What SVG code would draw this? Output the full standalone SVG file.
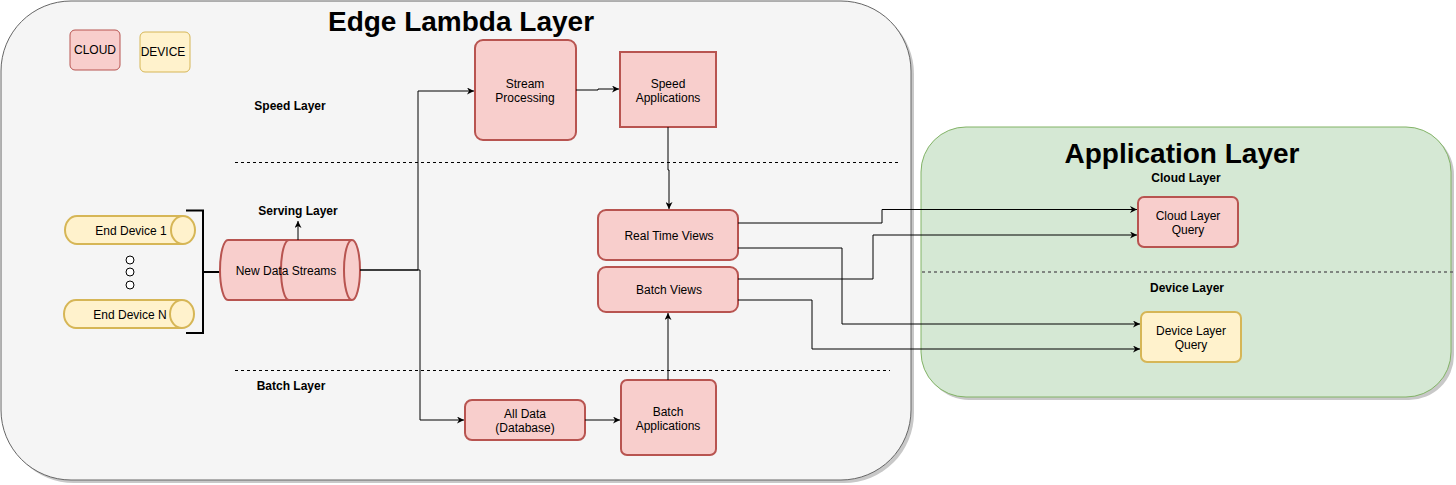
<svg xmlns="http://www.w3.org/2000/svg" width="1456" height="485" viewBox="0 0 1456 485">
<style>
.t{font-family:"Liberation Sans",Arial,sans-serif;font-size:12px;fill:#000;text-anchor:middle}
.b{font-weight:bold}
.title{font-family:"Liberation Sans",Arial,sans-serif;font-size:28px;font-weight:bold;fill:#000;text-anchor:middle}
.red{fill:#f8cecc;stroke:#b85450;stroke-width:2}
.yel{fill:#fff2cc;stroke:#d6b656;stroke-width:2}
.c{fill:none;stroke:#000;stroke-width:1}
.dash{fill:none;stroke:#000;stroke-width:1;stroke-dasharray:3 3}
</style>
<defs>
<marker id="a" viewBox="0 0 10 10" refX="10" refY="5" markerWidth="7" markerHeight="7" orient="auto" markerUnits="userSpaceOnUse">
<path d="M0,0 L10,5 L0,10 L3,5 z" fill="#000"/>
</marker>
</defs>

<g id="edge-lambda-layer">
<rect x="4" y="4" width="910" height="479" rx="70" fill="#c8c8c8"/>
<rect x="1" y="1" width="910" height="479" rx="70" fill="#f5f5f5" stroke="#666" stroke-width="1"/>
<text class="title" x="461" y="31">Edge Lambda Layer</text>
</g>

<g id="application-layer">
<rect x="924" y="130" width="530" height="270" rx="45" fill="#c8c8c8"/>
<rect x="921" y="127" width="530" height="270" rx="45" fill="#d5e8d4" stroke="#82b366" stroke-width="1"/>
<text class="title" x="1182" y="163">Application Layer</text>
</g>

<g id="legend-cloud">
<rect class="red" x="70" y="30" width="50" height="40" rx="5" style="stroke-width:1"/>
<text class="t" x="95" y="54">CLOUD</text>
</g>
<g id="legend-device">
<rect class="yel" x="140" y="32" width="50" height="40" rx="5" style="stroke-width:1"/>
<text class="t" x="163" y="56">DEVICE</text>
</g>

<g id="layer-labels">
<text class="t b" x="290" y="110">Speed Layer</text>
<text class="t b" x="298" y="215">Serving Layer</text>
<text class="t b" x="291" y="390">Batch Layer</text>
<text class="t b" x="1186" y="182">Cloud Layer</text>
<text class="t b" x="1187" y="292">Device Layer</text>
<line class="dash" x1="235" y1="162.5" x2="898" y2="162.5"/>
<line class="dash" x1="235" y1="370.5" x2="890" y2="370.5"/>
<line x1="922" y1="272" x2="1456" y2="272" stroke="#666" stroke-width="1.5" stroke-dasharray="3 3"/>
</g>

<g id="end-device-1">
<path class="yel" d="M77,216 L183,216 A12,14 0 0 1 183,244 L77,244 A12,14 0 0 1 77,216 Z"/>
<path class="yel" d="M183,216 A12,14 0 0 0 183,244" fill="none"/>
<text class="t" x="131" y="235">End Device 1</text>
</g>
<g id="dots">
<circle cx="130" cy="260" r="4" fill="#fff" stroke="#000" stroke-width="1"/>
<circle cx="130" cy="272" r="4" fill="#fff" stroke="#000" stroke-width="1"/>
<circle cx="130" cy="285" r="4" fill="#fff" stroke="#000" stroke-width="1"/>
</g>
<g id="end-device-n">
<path class="yel" d="M76,300 L182,300 A12,14 0 0 1 182,328 L76,328 A12,14 0 0 1 76,300 Z"/>
<path class="yel" d="M182,300 A12,14 0 0 0 182,328" fill="none"/>
<text class="t" x="130" y="319">End Device N</text>
</g>
<g id="bracket">
<path d="M186,210.5 L203,210.5 L203,333 L186,333 M203,272 L220,272" fill="none" stroke="#000" stroke-width="2"/>
</g>

<g id="new-data-streams">
<path class="red" d="M228,240 L295,240 L295,300 L228,300 A8,30 0 0 1 228,240 Z"/>
<path class="red" d="M289,240 L352,240 A8,30 0 0 1 352,300 L289,300 A8,30 0 0 1 289,240 Z"/>
<path class="red" d="M352,240 A8,30 0 0 0 352,300" fill="none"/>
<text class="t" x="286" y="275">New Data Streams</text>
</g>

<g id="stream-processing">
<rect class="red" x="475" y="40" width="101" height="100" rx="8"/>
<text class="t" x="525" y="88">Stream</text>
<text class="t" x="525" y="102">Processing</text>
</g>
<g id="speed-applications">
<rect class="red" x="620" y="52" width="96" height="75"/>
<text class="t" x="668" y="88">Speed</text>
<text class="t" x="668" y="102">Applications</text>
</g>
<g id="real-time-views">
<rect class="red" x="598" y="210" width="140" height="50" rx="8"/>
<text class="t" x="669" y="240">Real Time Views</text>
</g>
<g id="batch-views">
<rect class="red" x="598" y="267" width="140" height="45" rx="8"/>
<text class="t" x="669" y="294">Batch Views</text>
</g>
<g id="all-data">
<rect class="red" x="465" y="400" width="120" height="40" rx="7"/>
<text class="t" x="525" y="418">All Data</text>
<text class="t" x="525" y="432">(Database)</text>
</g>
<g id="batch-applications">
<rect class="red" x="621" y="380" width="95" height="75" rx="6"/>
<text class="t" x="668" y="416">Batch</text>
<text class="t" x="668" y="430">Applications</text>
</g>
<g id="cloud-layer-query">
<rect class="red" x="1138" y="197" width="100" height="50" rx="6"/>
<text class="t" x="1188" y="220">Cloud Layer</text>
<text class="t" x="1188" y="234">Query</text>
</g>
<g id="device-layer-query">
<rect class="yel" x="1141" y="312" width="100" height="50" rx="6"/>
<text class="t" x="1191" y="335">Device Layer</text>
<text class="t" x="1191" y="349">Query</text>
</g>

<g id="connectors">
<path class="c" d="M298,240 L298,221" marker-end="url(#a)"/>
<path class="c" d="M360,270 L418,270 L418,91 L474,91" marker-end="url(#a)"/>
<path class="c" d="M360,270 L420,270 L420,420 L464,420" marker-end="url(#a)"/>
<path class="c" d="M576,90 L598,90 L598,89 L619,89" marker-end="url(#a)"/>
<path class="c" d="M668,127 L668,170 L669,170 L669,209" marker-end="url(#a)"/>
<path class="c" d="M585,420 L620,420" marker-end="url(#a)"/>
<path class="c" d="M668,380 L668,313" marker-end="url(#a)"/>
<path class="c" d="M738,223 L882,223 L882,209.5 L1137,209.5" marker-end="url(#a)"/>
<path class="c" d="M738,279 L873,279 L873,235 L1137,235" marker-end="url(#a)"/>
<path class="c" d="M738,248 L842,248 L842,324 L1140,324" marker-end="url(#a)"/>
<path class="c" d="M738,300 L812,300 L812,349 L1140,349" marker-end="url(#a)"/>
</g>
</svg>
